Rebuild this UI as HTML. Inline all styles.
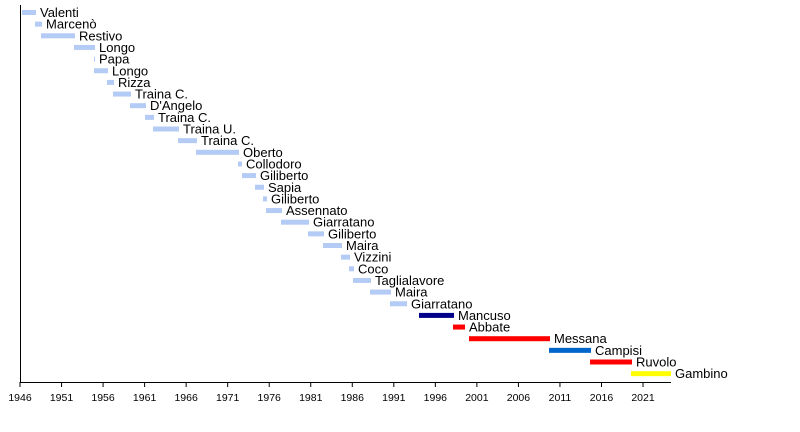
<!DOCTYPE html>
<html><head><style>body{margin:0;background:#fff}svg{display:block}text{font-family:"Liberation Sans",sans-serif}</style></head><body>
<svg width="800" height="432" xmlns="http://www.w3.org/2000/svg">
<g id="bars"></g>
<line x1="20.5" y1="5" x2="20.5" y2="382" stroke="#000"/>
<line x1="20" y1="382.5" x2="671" y2="382.5" stroke="#000"/>
<g id="ticks" stroke="#000"></g>
<g id="tl" font-size="10.5" text-anchor="middle"></g>
<script>
var d=[["Valenti",22,36],["Marcenò",35,42],["Restivo",41,75],["Longo",74,95],["Papa",94,95],["Longo",94,108],["Rizza",107,114],["Traina C.",113,131],["D'Angelo",130,146],["Traina C.",145,154],["Traina U.",153,179],["Traina C.",178,197],["Oberto",196,239],["Collodoro",238,242],["Giliberto",242,256],["Sapia",255,264],["Giliberto",263,267],["Assennato",266,282],["Giarratano",281,309],["Giliberto",308,324],["Maira",323,342],["Vizzini",341,350],["Coco",349,354],["Taglialavore",353,371],["Maira",370,391],["Giarratano",390,407],["Mancuso",419,454,"#00008b"],["Abbate",453,465,"#ff0000"],["Messana",469,550,"#ff0000"],["Campisi",549,591,"#0066cc"],["Ruvolo",590,632,"#ff0000"],["Gambino",631,671,"#ffff00"]];
var ns="http://www.w3.org/2000/svg",g=document.getElementById("bars");
d.forEach(function(r,i){var y=12.5+i*11.65;var b=document.createElementNS(ns,"rect");b.setAttribute("x",r[1]);b.setAttribute("y",y-2.5);b.setAttribute("width",Math.max(1,r[2]-r[1]));b.setAttribute("height",5);b.setAttribute("fill",r[3]||"#b4cbf5");g.appendChild(b);
var t=document.createElementNS(ns,"text");t.setAttribute("x",r[2]+4);t.setAttribute("y",y+4.5);t.setAttribute("font-size","13");t.textContent=r[0];g.appendChild(t);});
var tk=document.getElementById("ticks"),tl=document.getElementById("tl");
for(var k=0;k<16;k++){var x=20+k*5*8.307;var l=document.createElementNS(ns,"line");l.setAttribute("x1",x);l.setAttribute("x2",x);l.setAttribute("y1",382);l.setAttribute("y2",387);tk.appendChild(l);
var t=document.createElementNS(ns,"text");t.setAttribute("x",x);t.setAttribute("y",401);t.textContent=1946+k*5;tl.appendChild(t);}
</script>
</svg></body></html>
